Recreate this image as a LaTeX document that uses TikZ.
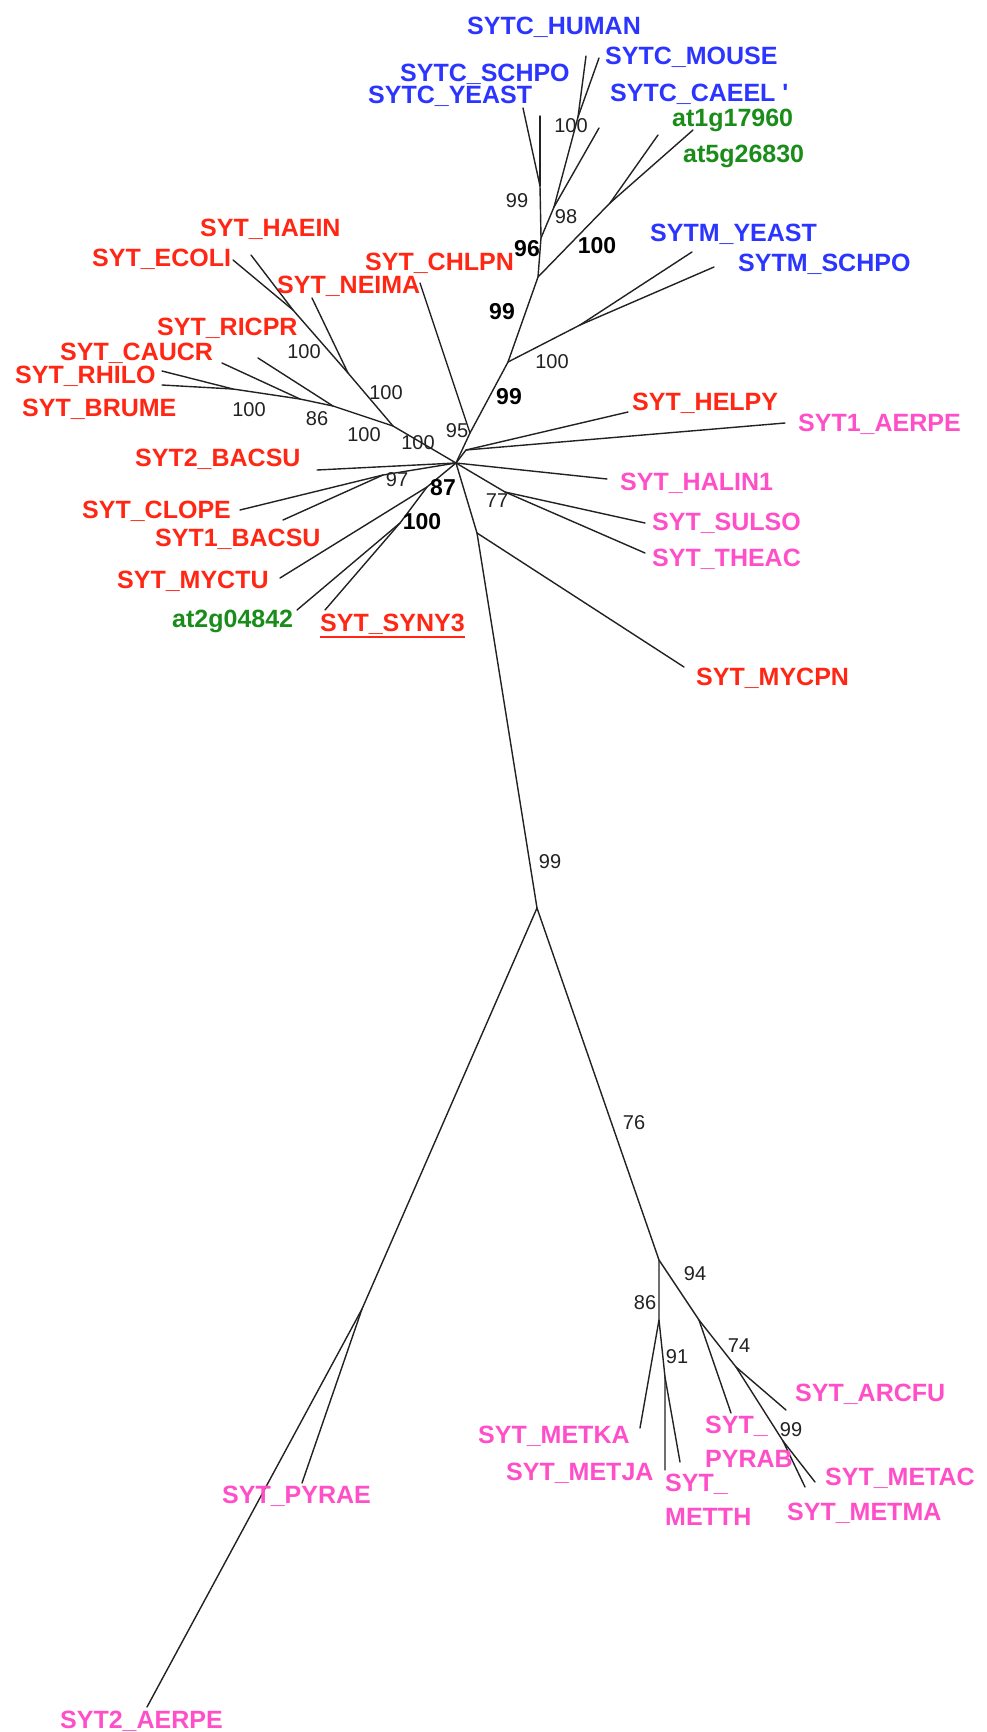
\documentclass[tikz,border=0pt]{standalone}
\usepackage{fontspec}
\setmainfont{Liberation Sans}
\usetikzlibrary{calc}
\definecolor{leafred}{HTML}{FF2614}
\definecolor{leafblue}{HTML}{2B35FF}
\definecolor{leafgreen}{HTML}{1A8C1A}
\definecolor{leafpink}{HTML}{FF4FC8}
\definecolor{edgegray}{HTML}{222222}
\begin{document}
\begin{tikzpicture}[x=1pt,y=-1pt,
  branch/.style={line width=1.4pt,draw=edgegray,line cap=round,line join=round},
  leaf/.style={anchor=base west,inner sep=0pt,font=\fontsize{25}{34}\selectfont\bfseries},
  bact/.style={leaf,text=leafred},
  euk/.style={leaf,text=leafblue},
  plant/.style={leaf,text=leafgreen},
  arch/.style={leaf,text=leafpink},
  boot/.style={inner sep=0pt,font=\fontsize{20}{22}\selectfont,text=edgegray},
  bootb/.style={inner sep=0pt,font=\fontsize{23}{25}\selectfont\bfseries,text=black}]
\useasboundingbox[fill=white] (0,0) rectangle (986,1732);

% ---------- tree nodes and tips ----------
\coordinate (H) at (456,463);
% upper clade
\coordinate (n95) at (470,433);
\coordinate (tCHLPN) at (420,283);
\coordinate (nTM) at (508,362);
\coordinate (nSM) at (580,325);
\coordinate (tSYTMY) at (692,252);
\coordinate (tSYTMS) at (714,267);
\coordinate (nAT) at (538,277);
\coordinate (nATg) at (610,203);
\coordinate (tAT1) at (693,130);
\coordinate (tAT5) at (658,135);
\coordinate (n96) at (541,238);
\coordinate (n99t) at (540,186);
\coordinate (tCYEAST) at (523,108);
\coordinate (tCSCHPO) at (540,116);
\coordinate (n98) at (554,207);
\coordinate (tCCAEEL) at (599,128);
\coordinate (nHM) at (578,117);
\coordinate (tCHUMAN) at (586,56);
\coordinate (tCMOUSE) at (599,58);
% proteobacteria
\coordinate (nP1) at (393,426);
\coordinate (nP2) at (348,373);
\coordinate (tNEIMA) at (312,298);
\coordinate (nEH) at (293,310);
\coordinate (tECOLI) at (233,260);
\coordinate (tHAEIN) at (251,255);
\coordinate (nP3) at (333,406);
\coordinate (tRICPR) at (258,358);
\coordinate (nP4) at (300,399);
\coordinate (tCAUCR) at (222,363);
\coordinate (nRB) at (233,389);
\coordinate (tRHILO) at (162,371);
\coordinate (tBRUME) at (162,385);
% gram positives, cyanobacteria
\coordinate (tBACSU2) at (317,470);
\coordinate (nF1) at (383,475);
\coordinate (tCLOPE) at (240,510);
\coordinate (tBACSU1) at (283,520);
\coordinate (nC1) at (427,487);
\coordinate (tMYCTU) at (280,578);
\coordinate (nC2) at (400,523);
\coordinate (tAT2) at (297,610);
\coordinate (tSYNY3) at (325,610);
% right side
\coordinate (nR1) at (466,450);
\coordinate (tHELPY) at (628,412);
\coordinate (tAERPE1) at (785,423);
\coordinate (tHALIN) at (607,479);
\coordinate (nST) at (505,492);
\coordinate (tSULSO) at (645,523);
\coordinate (tTHEAC) at (645,553);
\coordinate (nM1) at (477,533);
\coordinate (tMYCPN) at (684,667);
% long stem and archaea
\coordinate (n99) at (537,908);
\coordinate (nS) at (362,1309);
\coordinate (tPYRAE) at (302,1483);
\coordinate (tAERPE2) at (147,1707);
\coordinate (n94) at (659,1260);
\coordinate (n86) at (659,1320);
\coordinate (tMETKA) at (640,1428);
\coordinate (n91) at (665,1377);
\coordinate (tMETJA) at (665,1470);
\coordinate (tMETTH) at (680,1462);
\coordinate (nP) at (699,1320);
\coordinate (tPYRAB) at (731,1413);
\coordinate (n74) at (736,1367);
\coordinate (tARCFU) at (786,1410);
\coordinate (n99b) at (783,1441);
\coordinate (tMETAC) at (815,1482);
\coordinate (tMETMA) at (805,1487);

% ---------- branches ----------
\draw[branch] (H) -- (n95) -- (tCHLPN);
\draw[branch] (n95) -- (nTM) -- (nSM) -- (tSYTMY);
\draw[branch] (nSM) -- (tSYTMS);
\draw[branch] (nTM) -- (nAT) -- (nATg) -- (tAT1);
\draw[branch] (nATg) -- (tAT5);
\draw[branch] (nAT) -- (n96) -- (n99t) -- (tCYEAST);
\draw[branch] (n99t) -- (tCSCHPO);
\draw[branch] (n96) -- (n98) -- (tCCAEEL);
\draw[branch] (n98) -- (nHM) -- (tCHUMAN);
\draw[branch] (nHM) -- (tCMOUSE);

\draw[branch] (H) -- (nP1) -- (nP2) -- (tNEIMA);
\draw[branch] (nP2) -- (nEH) -- (tECOLI);
\draw[branch] (nEH) -- (tHAEIN);
\draw[branch] (nP1) -- (nP3) -- (tRICPR);
\draw[branch] (nP3) -- (nP4) -- (tCAUCR);
\draw[branch] (nP4) -- (nRB) -- (tRHILO);
\draw[branch] (nRB) -- (tBRUME);

\draw[branch] (H) -- (tBACSU2);
\draw[branch] (H) -- (nF1) -- (tCLOPE);
\draw[branch] (nF1) -- (tBACSU1);
\draw[branch] (H) -- (nC1) -- (tMYCTU);
\draw[branch] (nC1) -- (nC2) -- (tAT2);
\draw[branch] (nC2) -- (tSYNY3);

\draw[branch] (H) -- (nR1) -- (tHELPY);
\draw[branch] (nR1) -- (tAERPE1);
\draw[branch] (H) -- (tHALIN);
\draw[branch] (H) -- (nST) -- (tSULSO);
\draw[branch] (nST) -- (tTHEAC);
\draw[branch] (H) -- (nM1) -- (tMYCPN);

\draw[branch] (nM1) -- (n99) -- (nS) -- (tAERPE2);
\draw[branch] (nS) -- (tPYRAE);
\draw[branch] (n99) -- (n94) -- (n86) -- (tMETKA);
\draw[branch] (n86) -- (n91) -- (tMETJA);
\draw[branch] (n91) -- (tMETTH);
\draw[branch] (n94) -- (nP) -- (tPYRAB);
\draw[branch] (nP) -- (n74) -- (tARCFU);
\draw[branch] (n74) -- (n99b) -- (tMETAC);
\draw[branch] (n99b) -- (tMETMA);

% ---------- leaf labels ----------
\node[euk] (lCHUMAN) at (467,34) {SYTC\_HUMAN};
\node[euk] (lCSCHPO) at (400,81) {SYTC\_SCHPO};
\node[euk] (lCYEAST) at (368,103) {SYTC\_YEAST};
\node[euk] (lCMOUSE) at (605,64) {SYTC\_MOUSE};
\node[euk] (lCCAEEL) at (610,101) {SYTC\_CAEEL \textquotesingle};
\node[plant] (lAT1) at (672,126) {at1g17960};
\node[plant] (lAT5) at (683,162) {at5g26830};
\node[euk] (lSYTMY) at (650,241) {SYTM\_YEAST};
\node[euk] (lSYTMS) at (738,271) {SYTM\_SCHPO};
\node[bact] (lCHLPN) at (365,270) {SYT\_CHLPN};
\node[bact] (lHAEIN) at (200,236) {SYT\_HAEIN};
\node[bact] (lECOLI) at (92,266) {SYT\_ECOLI};
\node[bact] (lNEIMA) at (277,293) {SYT\_NEIMA};
\node[bact] (lRICPR) at (157,335) {SYT\_RICPR};
\node[bact] (lCAUCR) at (60,360) {SYT\_CAUCR};
\node[bact] (lRHILO) at (15,383) {SYT\_RHILO};
\node[bact] (lBRUME) at (22,416) {SYT\_BRUME};
\node[bact] (lBACSU2) at (135,466) {SYT2\_BACSU};
\node[bact] (lCLOPE) at (82,518) {SYT\_CLOPE};
\node[bact] (lBACSU1) at (155,546) {SYT1\_BACSU};
\node[bact] (lMYCTU) at (117,588) {SYT\_MYCTU};
\node[plant] (lAT2) at (172,627) {at2g04842};
\node[bact] (lSYNY3) at (320,631) {SYT\_SYNY3};
\draw[leafred,line width=1.6pt] ($(lSYNY3.base west)+(0,6)$) -- ($(lSYNY3.base east)+(0,6)$);
\node[bact] (lHELPY) at (632,410) {SYT\_HELPY};
\node[arch] (lAERPE1) at (798,431) {SYT1\_AERPE};
\node[arch] (lHALIN) at (620,490) {SYT\_HALIN1};
\node[arch] (lSULSO) at (652,530) {SYT\_SULSO};
\node[arch] (lTHEAC) at (652,566) {SYT\_THEAC};
\node[bact] (lMYCPN) at (696,685) {SYT\_MYCPN};
\node[arch] (lPYRAE) at (222,1503) {SYT\_PYRAE};
\node[arch] (lAERPE2) at (60,1728) {SYT2\_AERPE};
\node[arch] (lMETKA) at (478,1443) {SYT\_METKA};
\node[arch] (lMETJA) at (506,1480) {SYT\_METJA};
\node[arch,anchor=north west,align=left] (lPYRAB) at (705,1416) {SYT\_\\PYRAB};
\node[arch,anchor=north west,align=left] (lMETTH) at (665,1474) {SYT\_\\METTH};
\node[arch] (lARCFU) at (795,1401) {SYT\_ARCFU};
\node[arch] (lMETAC) at (825,1485) {SYT\_METAC};
\node[arch] (lMETMA) at (787,1520) {SYT\_METMA};

% ---------- bootstrap values ----------
\node[boot] (b1) at (571,126) {100};
\node[boot] (b2) at (517,201) {99};
\node[boot] (b3) at (566,217) {98};
\node[bootb] (b4) at (527,249) {96};
\node[bootb] (b5) at (597,246) {100};
\node[bootb] (b6) at (502,312) {99};
\node[boot] (b7) at (552,362) {100};
\node[bootb] (b8) at (509,397) {99};
\node[boot] (b9) at (457,431) {95};
\node[boot] (b10) at (304,352) {100};
\node[boot] (b11) at (386,393) {100};
\node[boot] (b12) at (249,410) {100};
\node[boot] (b13) at (317,419) {86};
\node[boot] (b14) at (364,435) {100};
\node[boot] (b15) at (418,443) {100};
\node[boot] (b16) at (397,480) {97};
\node[bootb] (b17) at (443,488) {87};
\node[bootb] (b18) at (422,522) {100};
\node[boot] (b19) at (497,501) {77};
\node[boot] (b20) at (550,862) {99};
\node[boot] (b21) at (634,1123) {76};
\node[boot] (b22) at (695,1274) {94};
\node[boot] (b23) at (645,1303) {86};
\node[boot] (b24) at (677,1357) {91};
\node[boot] (b25) at (739,1346) {74};
\node[boot] (b26) at (791,1430) {99};
\end{tikzpicture}
\end{document}
